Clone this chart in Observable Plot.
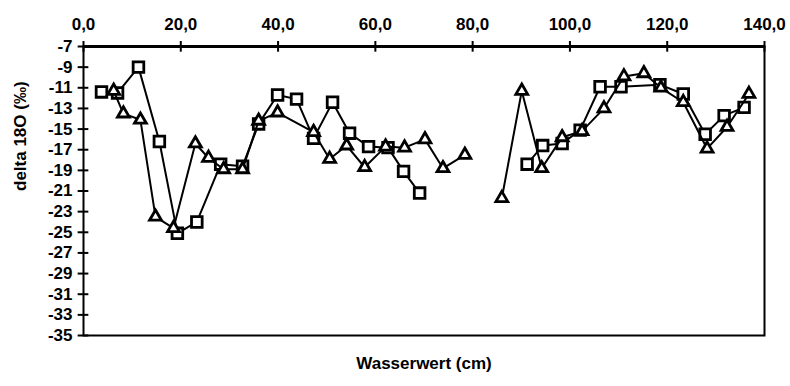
<!DOCTYPE html>
<html>
<head>
<meta charset="utf-8">
<script src="https://cdn.jsdelivr.net/npm/d3@7"></script>
<script src="https://cdn.jsdelivr.net/npm/@observablehq/plot@0.6"></script>
<style>
  html, body { margin: 0; padding: 0; background: #fff; }
</style>
</head>
<body>
<div id="chart"></div>
<script>
// Series 1 (squares); null marks the gap in the record
const sqX = [3.7, 7.0, 11.3, 15.6, 19.3, 23.3, 28.2, 32.7, 36.0, 39.9, 43.8, 47.3, 51.2, 54.7, 58.6, 62.6, 65.8, 69.1, null,
             91.2, 94.4, 98.4, 102.1, 106.2, 110.5, 118.5, 123.3, 127.8, 131.7, 135.8];
const sqY = [-11.4, -11.5, -9.0, -16.2, -25.1, -24.0, -18.4, -18.6, -14.5, -11.7, -12.1, -15.9, -12.4, -15.4, -16.7, -16.8, -19.1, -21.2, null,
             -18.4, -16.6, -16.4, -15.1, -10.9, -10.9, -10.7, -11.6, -15.5, -13.7, -12.9];

// Series 2 (triangles)
const triX = [6.2, 8.2, 11.7, 14.8, 18.5, 23.0, 25.7, 28.8, 32.7, 36.0, 39.9, 47.3, 50.6, 54.1, 57.8, 62.1, 66.0, 70.2, 73.9, 78.4, null,
              86.0, 90.1, 94.2, 98.4, 102.5, 107.0, 111.1, 115.2, 118.7, 123.3, 128.2, 132.3, 136.8];
const triY = [-11.3, -13.5, -14.1, -23.5, -24.6, -16.4, -17.8, -18.9, -18.9, -14.2, -13.4, -15.3, -17.9, -16.6, -18.7, -16.7, -16.8, -16.0, -18.8, -17.5, null,
              -21.7, -11.3, -18.8, -15.8, -15.2, -13.0, -9.9, -9.6, -11.0, -12.4, -16.9, -14.8, -11.6];

// Tick labels
const xTicks = [0, 20, 40, 60, 80, 100, 120, 140];
const yTicks = [-7, -9, -11, -13, -15, -17, -19, -21, -23, -25, -27, -29, -31, -33, -35];
const xLabel = "Wasserwert (cm)";
const yLabel = "delta 18O (‰)";

const squares = sqX.map((x, i) => ({x, y: sqY[i]}));
const triangles = triX.map((x, i) => ({x, y: triY[i]}));
const sqPts = squares.filter(d => d.x != null && d.y != null);
const triPts = triangles.filter(d => d.x != null && d.y != null);

const fmtX = d => d.toFixed(1).replace(".", ",");

const chart = Plot.plot({
  width: 790,
  height: 386,
  marginLeft: 83,
  marginRight: 26,
  marginTop: 46,
  marginBottom: 51,
  style: {fontFamily: "'Liberation Sans', Arial, sans-serif", fontWeight: "bold", fontSize: "17px", color: "#000", background: "#fff"},
  x: {domain: [0, 140]},
  y: {domain: [-35, -7]},
  marks: [
    Plot.frame({stroke: "#000", strokeWidth: 2}),
    Plot.ruleY([-7], {stroke: "#000", strokeWidth: 3}),
    Plot.axisX({anchor: "top", ticks: xTicks, tickFormat: fmtX, tickSize: 6, tickPadding: 11, strokeWidth: 2, label: null, fontSize: 17}),
    Plot.ruleX(xTicks, {x: d => d, y1: -7, y2: -7.55, stroke: "#000", strokeWidth: 2}),
    Plot.axisY({anchor: "left", ticks: yTicks, tickFormat: d => String(d), tickSize: 0, tickPadding: 11, label: null, fontSize: 17}),
    Plot.ruleY(yTicks, {y: d => d, x1: -1.1, x2: 1.1, stroke: "#000", strokeWidth: 2}),
    Plot.line(squares, {x: "x", y: "y", stroke: "#000", strokeWidth: 2}),
    Plot.dot(sqPts, {x: "x", y: "y", symbol: "square", r: 6, fill: "#fff", stroke: "#000", strokeWidth: 2.8}),
    Plot.line(triangles, {x: "x", y: "y", stroke: "#000", strokeWidth: 2}),
    Plot.dot(triPts, {x: "x", y: "y", symbol: "triangle", r: 4.4, fill: "#fff", stroke: "#000", strokeWidth: 2.8}),
    Plot.text([xLabel], {frameAnchor: "bottom", dy: 33, fontSize: 17, fill: "#000"}),
    Plot.text([yLabel], {frameAnchor: "left", dx: -63, rotate: -90, fontSize: 17, fill: "#000"})
  ]
});
document.getElementById("chart").appendChild(chart);
</script>
</body>
</html>
